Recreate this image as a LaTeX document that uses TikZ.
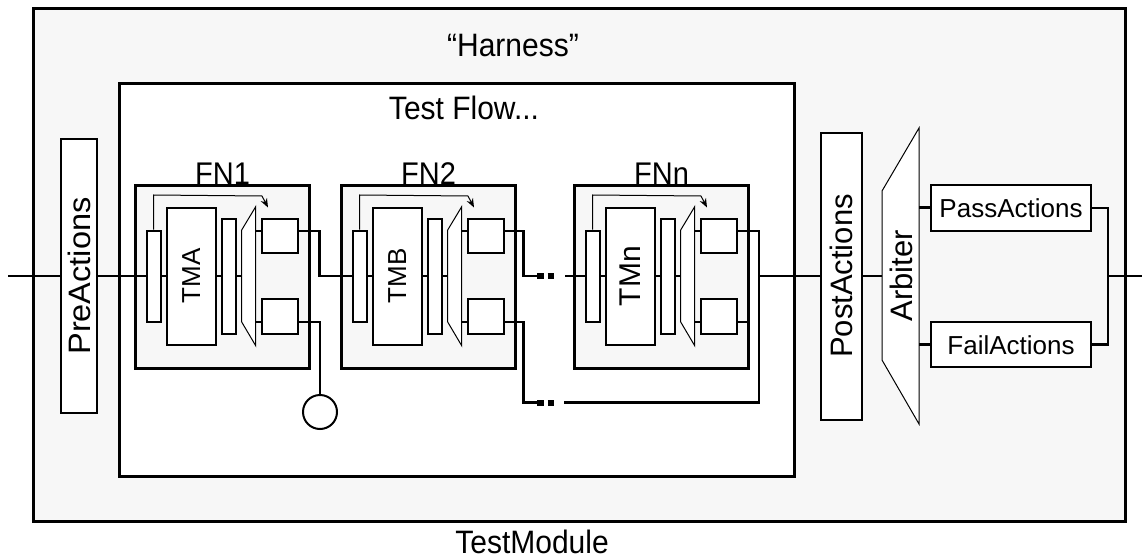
\documentclass[tikz,border=0pt]{standalone}
\usepackage{fontspec}
\setmainfont{Liberation Sans}
\usetikzlibrary{positioning,arrows.meta}
\definecolor{bgfill}{RGB}{247,247,247}
\newcommand\vstretch[1]{\scalebox{1}[1.08]{#1}}
\newcommand\lstretch[1]{\scalebox{1.05}[1]{#1}}
\tikzset{
  frame/.style={draw, line width=3pt, inner sep=0pt, anchor=north west},
  blk/.style={draw, line width=2pt, fill=white, inner sep=0pt},
  wire/.style={line width=2.8pt},
  inwire/.style={line width=2.2pt},
  hair/.style={line width=1pt},
  big/.style={font=\fontsize{30}{36}\selectfont},
}

\begin{document}
\begin{tikzpicture}[x=1pt,y=-1pt]
\useasboundingbox (0,0) rectangle (1142,559);
\node[frame, fill=bgfill, minimum width=1092pt, minimum height=513pt] (module) at (32,7) {};
\node[big, anchor=base] (modlab) at (532,553) {\vstretch{TestModule}};
\node[big, anchor=base] (harness) at (513,57) {\vstretch{``Harness''}};
\node[frame, fill=white, minimum width=675pt, minimum height=393pt] (flow) at (118,82) {};
\node[big, anchor=base] (flowlab) at (464,120) {\vstretch{Test Flow...}};
\node[blk, rotate=90, minimum width=274pt, minimum height=36pt, font=\fontsize{31}{36}\selectfont] (pre) at (79,276) {\lstretch{PreActions}};
\node[blk, rotate=90, minimum width=287pt, minimum height=41pt, font=\fontsize{31}{36}\selectfont] (post) at (841.5,276) {PostActions};
\foreach \L/\n/\tm/\fs in {134/1/TMA/26, 340/2/TMB/26, 573/n/TMn/30} {
  \node[frame, fill=bgfill, minimum width=174pt, minimum height=183pt] (fn\n) at (\L,184) {};
  \node[anchor=base, font=\fontsize{29}{34}\selectfont] (fnlab\n) at (fn\n.north) {\vstretch{FN\n}};
  \node[blk, minimum width=14pt, minimum height=91pt] (in\n) at (\L+19.7,276) {};
  \node[blk, rotate=90, minimum width=137pt, minimum height=49pt, font=\fontsize{\fs}{34}\selectfont] (tm\n) at (\L+57.2,276) {\tm};
  \node[blk, minimum width=14pt, minimum height=115pt] (bar\n) at (\L+94.7,276) {};
  \draw[hair, fill=white] (\L+107.7,230) -- (\L+121.7,206.7) -- (\L+121.7,345.7) -- (\L+107.7,322) -- cycle;
  \coordinate (mx\n-l) at (\L+107.7,276);
  \coordinate (mx\n-a) at (\L+121.7,231);
  \coordinate (mx\n-b) at (\L+121.7,322);
  \node[blk, minimum width=36.6pt, minimum height=33.7pt] (ot\n) at (\L+146,235.9) {};
  \node[blk, minimum width=36.6pt, minimum height=34.7pt] (ob\n) at (\L+146,316.5) {};
  \draw[inwire] (in\n.east) -- (tm\n.north);
  \draw[inwire] (tm\n.south) -- (bar\n.west);
  \draw[inwire] (bar\n.east) -- (mx\n-l);
  \draw[inwire] (mx\n-a) -- (ot\n.west |- mx\n-a);
  \draw[inwire] (mx\n-b) -- (ob\n.west |- mx\n-b);
  \draw[hair, -{Stealth[length=9pt,width=7pt]}] (in\n.north) -- ++(0,-34.5) -- (\L+128,196) -- (\L+134,207.5);
}
\node[draw, circle, line width=2pt, fill=white, minimum size=34pt] (probe) at (320,412) {};
\draw[hair, fill=white] (882,191) -- (919,128) -- (919,424) -- (882,360) -- cycle;
\coordinate (arb-l) at (882,276);
\coordinate (arb-a) at (919,207.5);
\coordinate (arb-b) at (919,344.5);
\node[rotate=90, font=\fontsize{31}{36}\selectfont] (arbiter) at (901,276) {Arbiter};
\node[blk, minimum width=160pt, minimum height=46pt, font=\fontsize{26}{30}\selectfont] (pass) at (1011,208) {PassActions};
\node[blk, minimum width=160pt, minimum height=45pt, font=\fontsize{26}{30}\selectfont] (fail) at (1011,344.8) {FailActions};
\coordinate (inleft) at (8,276);
\coordinate (outright) at (1142,276);
\coordinate (gapA) at (537,276);
\coordinate (gapA2) at (565,276);
\coordinate (gapB) at (537,402.5);
\coordinate (gapB2) at (564,402.5);
\coordinate (joinN) at (759,276);
\coordinate (joinR) at (1108,276);
\draw[wire] (inleft) -- (pre.north);
\draw[wire] (pre.south) -- (in1.west);
\draw[wire] (ot1.east |- mx1-a) -- ++(20,0) |- (in2.west);
\draw[wire] (ob1.east |- mx1-b) -| (probe.north);
\draw[wire] (ot2.east |- mx2-a) -- ++(18,0) |- (gapA);
\draw[line width=6pt, dash pattern=on 6.5pt off 4pt] (gapA) -- ++(17,0);
\draw[wire] (gapA2) -- (inn.west);
\draw[wire] (ob2.east |- mx2-b) -- ++(18,0) |- (gapB);
\draw[line width=6pt, dash pattern=on 6.5pt off 4pt] (gapB) -- ++(17,0);
\draw[wire] (gapB2) -| (joinN);
\draw[wire] (otn.east |- mxn-a) -| (joinN) -- (post.north);
\draw[wire] (obn.east |- mxn-b) -- (fnn.east |- mxn-b);
\draw[wire] (post.south) -- (arb-l);
\draw[wire] (arb-a) -- (pass.west |- arb-a);
\draw[wire] (arb-b) -- (fail.west |- arb-b);
\draw[wire] (pass.east) -| (joinR) |- (fail.east);
\draw[wire] (joinR) -- (outright);
\end{tikzpicture}
\end{document}
